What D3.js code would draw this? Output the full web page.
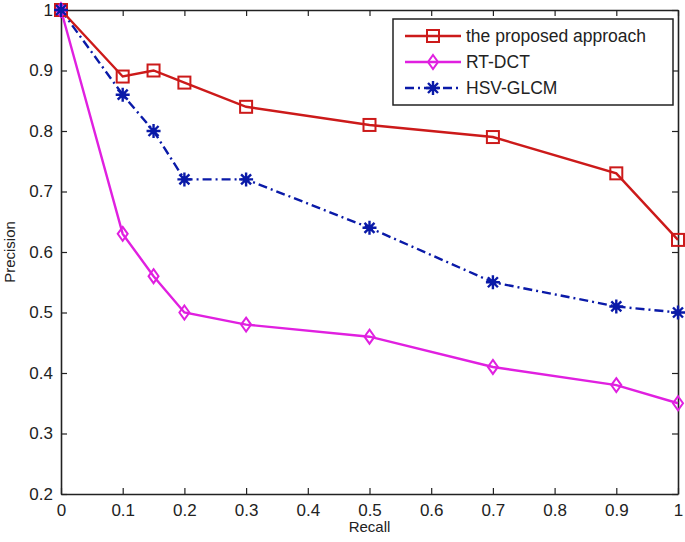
<!DOCTYPE html>
<html>
<head>
<meta charset="utf-8">
<script src="https://cdn.jsdelivr.net/npm/d3@7"></script>
<style>
  body { margin: 0; background: #fff; overflow: hidden; }
  svg { display: block; }
  svg text { font-family: "Liberation Sans", Arial, sans-serif; fill: #222; }
</style>
</head>
<body>
<svg></svg>
<script>
let width = 685;
let height = 542;
let margin = { left: 61, right: 7, top: 10, bottom: 48 };
let innerWidth = width - margin.left - margin.right;
let innerHeight = height - margin.top - margin.bottom;

// recall values shared by every series
let recall = [0, 0.1, 0.15, 0.2, 0.3, 0.5, 0.7, 0.9, 1];
let proposed = [1, 0.89, 0.9, 0.88, 0.84, 0.81, 0.79, 0.73, 0.62];
let rtdct = [1, 0.63, 0.56, 0.5, 0.48, 0.46, 0.41, 0.38, 0.35];
let hsvglcm = [1, 0.86, 0.8, 0.72, 0.72, 0.64, 0.55, 0.51, 0.5];
let seriesNames = ['the proposed approach', 'RT-DCT', 'HSV-GLCM'];
let xTicks = [0, 0.1, 0.2, 0.3, 0.4, 0.5, 0.6, 0.7, 0.8, 0.9, 1];
let yTicks = [0.2, 0.3, 0.4, 0.5, 0.6, 0.7, 0.8, 0.9, 1];

let series = [
    { name: seriesNames[0], values: proposed, color: '#cc1a1a', dash: null, marker: 'square' },
    { name: seriesNames[1], values: rtdct, color: '#e020e0', dash: null, marker: 'diamond' },
    { name: seriesNames[2], values: hsvglcm, color: '#0a1aa8', dash: '9,4,2,4', marker: 'star' }
];

let svg = d3.select('svg').attr('width', width).attr('height', height);
let focus = svg.append('g').attr('transform', `translate(${margin.left}, ${margin.top})`);

let xScale = d3.scaleLinear().domain([0, 1]).range([0, innerWidth]);
let yScale = d3.scaleLinear().domain([0.2, 1]).range([innerHeight, 0]);
let fmt = d => d === 1 ? '1' : (d === 0 ? '0' : d3.format('.1f')(d));

// axes with inward ticks, matlab style box
let tickLen = 6;
let xAxis = d3.axisBottom(xScale).tickValues(xTicks).tickFormat(fmt).tickSizeInner(-tickLen).tickSizeOuter(0).tickPadding(10);
let yAxis = d3.axisLeft(yScale).tickValues(yTicks).tickFormat(fmt).tickSizeInner(-tickLen).tickSizeOuter(0).tickPadding(8);
let xTop = d3.axisTop(xScale).tickValues(xTicks).tickFormat('').tickSizeInner(-tickLen).tickSizeOuter(0);
let yRight = d3.axisRight(yScale).tickValues(yTicks).tickFormat('').tickSizeInner(-tickLen).tickSizeOuter(0);

focus.append('g').attr('transform', `translate(0, ${innerHeight})`).call(xAxis);
focus.append('g').call(yAxis);
focus.append('g').call(xTop);
focus.append('g').attr('transform', `translate(${innerWidth}, 0)`).call(yRight);

focus.selectAll('.domain').attr('stroke', '#222').attr('stroke-width', 1.6);
focus.selectAll('.tick line').attr('stroke', '#222').attr('stroke-width', 1.2);
focus.selectAll('.tick text').style('font-size', '17px').attr('fill', '#333');

svg.append('text')
    .attr('x', margin.left + innerWidth / 2)
    .attr('y', 532)
    .attr('text-anchor', 'middle')
    .style('font-size', '15px')
    .text('Recall');

svg.append('text')
    .attr('transform', `translate(15, ${margin.top + innerHeight / 2}) rotate(-90)`)
    .attr('text-anchor', 'middle')
    .style('font-size', '15px')
    .text('Precision');

let line = d3.line()
    .x((d, i) => xScale(recall[i]))
    .y(d => yScale(d));

function drawMarker(g, type, color) {
    if (type === 'square') {
        g.append('rect').attr('x', -6).attr('y', -6).attr('width', 12).attr('height', 12)
            .attr('fill', 'none').attr('stroke', color).attr('stroke-width', 2);
    } else if (type === 'diamond') {
        g.append('path').attr('d', 'M0,-7L5,0L0,7L-5,0Z')
            .attr('fill', 'none').attr('stroke', color).attr('stroke-width', 2);
    } else {
        // matlab style asterisk
        g.append('path').attr('d', 'M-7,0L7,0M0,-7L0,7M-5,-5L5,5M-5,5L5,-5')
            .attr('stroke', color).attr('stroke-width', 2.4);
        g.append('circle').attr('r', 3).attr('fill', color);
    }
}

let lines = focus.append('g');
series.forEach(s => {
    lines.append('path')
        .datum(s.values)
        .attr('d', line)
        .attr('fill', 'none')
        .attr('stroke', s.color)
        .attr('stroke-width', 2.4)
        .attr('stroke-dasharray', s.dash);
});
series.forEach(s => {
    s.values.forEach((v, i) => {
        let g = lines.append('g').attr('transform', `translate(${xScale(recall[i])}, ${yScale(v)})`);
        drawMarker(g, s.marker, s.color);
    });
});

// legend
let legend = svg.append('g').attr('transform', 'translate(393, 19)');
legend.append('rect').attr('width', 280).attr('height', 86)
    .attr('fill', '#fff').attr('stroke', '#222').attr('stroke-width', 1.5);
series.forEach((s, i) => {
    let y = 17 + i * 26;
    legend.append('line').attr('x1', 12).attr('x2', 68).attr('y1', y).attr('y2', y)
        .attr('stroke', s.color).attr('stroke-width', 2.4).attr('stroke-dasharray', s.dash);
    let g = legend.append('g').attr('transform', `translate(40, ${y})`);
    drawMarker(g, s.marker, s.color);
    legend.append('text').attr('x', 73).attr('y', y + 6)
        .style('font-size', '17.5px').text(s.name);
});
</script>
</body>
</html>
